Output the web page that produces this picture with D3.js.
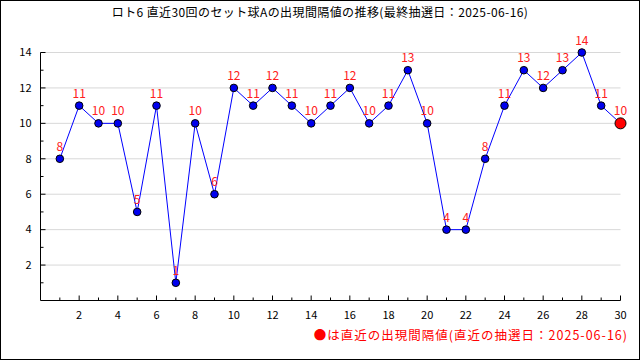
<!DOCTYPE html>
<html>
<head>
<meta charset="utf-8">
<script src="https://cdn.jsdelivr.net/npm/d3@7"></script>
<style>
  body { margin: 0; background: #fff; }
  svg { display: block; font-family: "Noto Sans CJK JP", "DejaVu Sans", sans-serif; }
</style>
</head>
<body>
<div class="chart"></div>
<script>
var draws = d3.range(1, 31);
var intervals = [8, 11, 10, 10, 5, 11, 1, 10, 6, 12, 11, 12, 11, 10, 11, 12, 10, 11, 13, 10, 4, 4, 8, 11, 13, 12, 13, 14, 11, 10];
var yTicks = [2, 4, 6, 8, 10, 12, 14];
var xTicks = [2, 4, 6, 8, 10, 12, 14, 16, 18, 20, 22, 24, 26, 28, 30];
var title = "ロト6 直近30回のセット球Aの出現間隔値の推移(最終抽選日：2025-06-16)";
var legendText = "●は直近の出現間隔値(直近の抽選日：2025-06-16)";

var width = 640, height = 360;

var svg = d3.select(".chart")
    .append("svg")
    .attr("width", width)
    .attr("height", height);

// outer frame
svg.append("rect")
    .attr("x", 0.5).attr("y", 0.5)
    .attr("width", width - 1).attr("height", height - 1)
    .attr("fill", "#fff")
    .attr("stroke", "#000");

var x = d3.scaleLinear().domain([0, 30]).range([40.5, 620.5]);
var y = d3.scaleLinear().domain([0, 14]).range([300.5, 52.5]);

// grid
svg.append("g")
    .selectAll("line")
    .data(yTicks)
    .enter()
    .append("line")
    .attr("x1", x(0)).attr("x2", x(30))
    .attr("y1", function (d) { return y(d); })
    .attr("y2", function (d) { return y(d); })
    .attr("stroke", "#d8d8d8");

// y axis
var yAxis = svg.append("g").attr("transform", "translate(" + x(0) + ",0)");
yAxis.append("line")
    .attr("y1", y(0)).attr("y2", y(14))
    .attr("stroke", "#000");
yAxis.selectAll(".tk")
    .data(d3.range(1, 15))
    .enter()
    .append("line")
    .attr("x1", 0)
    .attr("x2", function (d) { return d % 2 == 0 ? 5 : 3; })
    .attr("y1", function (d) { return y(d); })
    .attr("y2", function (d) { return y(d); })
    .attr("stroke", "#000");
yAxis.selectAll("text")
    .data(yTicks)
    .enter()
    .append("text")
    .attr("x", -9)
    .attr("y", function (d) { return y(d); })
    .attr("dy", "0.35em")
    .attr("text-anchor", "end")
    .attr("font-size", 11)
    .text(function (d) { return d; });

// x axis
var xAxis = svg.append("g").attr("transform", "translate(0," + y(0) + ")");
xAxis.append("line")
    .attr("x1", x(0)).attr("x2", x(30))
    .attr("stroke", "#000");
xAxis.selectAll(".tk")
    .data(d3.range(1, 31))
    .enter()
    .append("line")
    .attr("x1", function (d) { return x(d); })
    .attr("x2", function (d) { return x(d); })
    .attr("y1", 0)
    .attr("y2", function (d) { return d % 2 == 0 ? -5 : -3; })
    .attr("stroke", "#000");
xAxis.selectAll("text")
    .data(xTicks)
    .enter()
    .append("text")
    .attr("x", function (d) { return x(d); })
    .attr("y", 18)
    .attr("text-anchor", "middle")
    .attr("font-size", 11)
    .text(function (d) { return d; });

// line
var line = d3.line()
    .x(function (d, i) { return x(draws[i]); })
    .y(function (d) { return y(d); });

svg.append("path")
    .datum(intervals)
    .attr("d", line)
    .attr("fill", "none")
    .attr("stroke", "#0000ff")
    .attr("stroke-width", 1);

// points
svg.append("g")
    .selectAll("circle")
    .data(intervals)
    .enter()
    .append("circle")
    .attr("cx", function (d, i) { return x(draws[i]); })
    .attr("cy", function (d) { return y(d); })
    .attr("r", function (d, i) { return i == intervals.length - 1 ? 5.5 : 3.8; })
    .attr("fill", function (d, i) { return i == intervals.length - 1 ? "#ff0000" : "#0000ee"; })
    .attr("stroke", "#000")
    .attr("stroke-width", 1);

// value labels
svg.append("g")
    .selectAll("text")
    .data(intervals)
    .enter()
    .append("text")
    .attr("x", function (d, i) { return x(draws[i]); })
    .attr("y", function (d) { return y(d) - 8; })
    .attr("text-anchor", "middle")
    .attr("font-size", 12)
    .attr("fill", "#ff2020")
    .text(function (d) { return d; });

// title
svg.append("text")
    .attr("x", 320)
    .attr("y", 17)
    .attr("text-anchor", "middle")
    .attr("font-size", 12)
    .attr("letter-spacing", 0.4)
    .text(title);

// legend
svg.append("text")
    .attr("x", 628)
    .attr("y", 340)
    .attr("text-anchor", "end")
    .attr("font-size", 12.5)
    .attr("letter-spacing", 1)
    .attr("fill", "#ff0000")
    .text(legendText);
</script>
</body>
</html>
